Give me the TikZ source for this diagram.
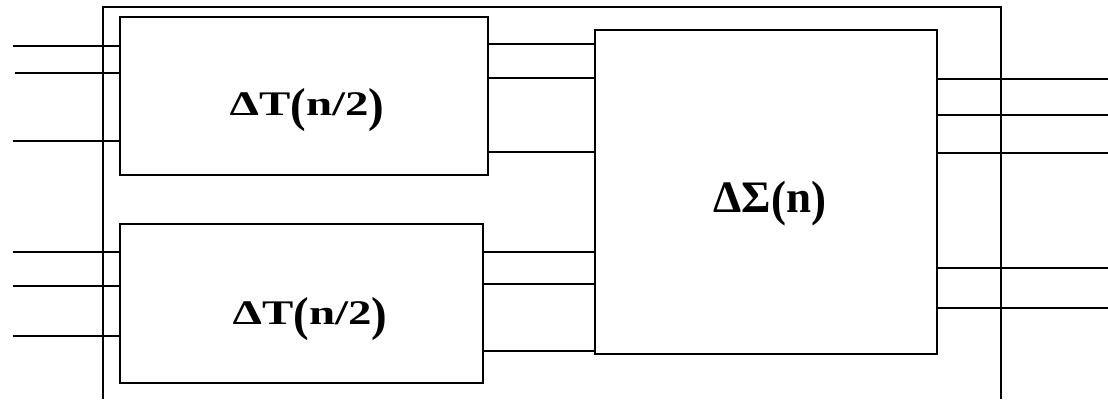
\documentclass[tikz,border=0pt]{standalone}
\usepackage{fontspec}
\setmainfont{Liberation Serif}
\newfontfamily\labelfont{Liberation Serif}
% a glyph stretched vertically by #1 and lowered by #2
\newcommand{\stretchglyph}[3]{\raisebox{#2}{\scalebox{1}[#1]{#3}}}
\begin{document}
\begin{tikzpicture}[x=1pt,y=-1pt,
  wire/.style={line width=2pt, line cap=butt},
  block/.style={draw, line width=2pt, rectangle, inner sep=0pt},
  lbl/.style={anchor=base, inner sep=0pt}]
\useasboundingbox (0,0) rectangle (1108,399);

% enclosing frame, open at the bottom
\coordinate (fbl) at (103,399);
\coordinate (ftl) at (103,6.5);
\coordinate (ftr) at (1000.7,6.5);
\coordinate (fbr) at (1000.7,399);
\draw[wire] (fbl) -- (ftl) -- (ftr) -- (fbr);

% blocks
\node[block, minimum width=368pt, minimum height=158.5pt] (A) at (304,95.75) {};
\node[block, minimum width=363.3pt, minimum height=158.7pt] (B) at (301.7,303.35) {};
\node[block, minimum width=342pt, minimum height=324.3pt] (C) at (766,192.15) {};

% labels
\node[lbl, font=\labelfont\bfseries\fontsize{34.5}{40}\selectfont] (lA) at (307,115)
  {\scalebox{1.36}[1]{ΔT\stretchglyph{1.38}{-6pt}{(}n/2\stretchglyph{1.38}{-6pt}{)}}};
\node[lbl, font=\labelfont\bfseries\fontsize{34.5}{40}\selectfont] (lB) at (310,324)
  {\scalebox{1.36}[1]{ΔT\stretchglyph{1.38}{-6pt}{(}n/2\stretchglyph{1.38}{-6pt}{)}}};
\node[lbl, font=\labelfont\bfseries\fontsize{45}{52}\selectfont] (lC) at (770,212)
  {ΔΣ\stretchglyph{1.1}{-3pt}{(}n\stretchglyph{1.1}{-3pt}{)}};

% inputs of the upper half sorter
\coordinate (ia1) at (12.7,46);
\coordinate (ia2) at (15.3,72.7);
\coordinate (ia3) at (12.7,141.3);
\foreach \c in {ia1,ia2,ia3} \draw[wire] (\c) -- (A.west |- \c);

% inputs of the lower half sorter
\coordinate (ib1) at (12.7,251.7);
\coordinate (ib2) at (12.7,285.7);
\coordinate (ib3) at (12.7,336.3);
\foreach \c in {ib1,ib2,ib3} \draw[wire] (\c) -- (B.west |- \c);

% half sorters into the merger
\coordinate (ma1) at (0,43.7);
\coordinate (ma2) at (0,77.7);
\coordinate (ma3) at (0,152);
\foreach \c in {ma1,ma2,ma3} \draw[wire] (A.east |- \c) -- (C.west |- \c);
\coordinate (mb1) at (0,251.7);
\coordinate (mb2) at (0,283.7);
\coordinate (mb3) at (0,351.3);
\foreach \c in {mb1,mb2,mb3} \draw[wire] (B.east |- \c) -- (C.west |- \c);

% outputs of the merger
\coordinate (o1) at (1108,78.7);
\coordinate (o2) at (1108,115);
\coordinate (o3) at (1108,153);
\coordinate (o4) at (1108,268);
\coordinate (o5) at (1108,308);
\foreach \c in {o1,o2,o3,o4,o5} \draw[wire] (C.east |- \c) -- (\c);
\end{tikzpicture}
\end{document}
